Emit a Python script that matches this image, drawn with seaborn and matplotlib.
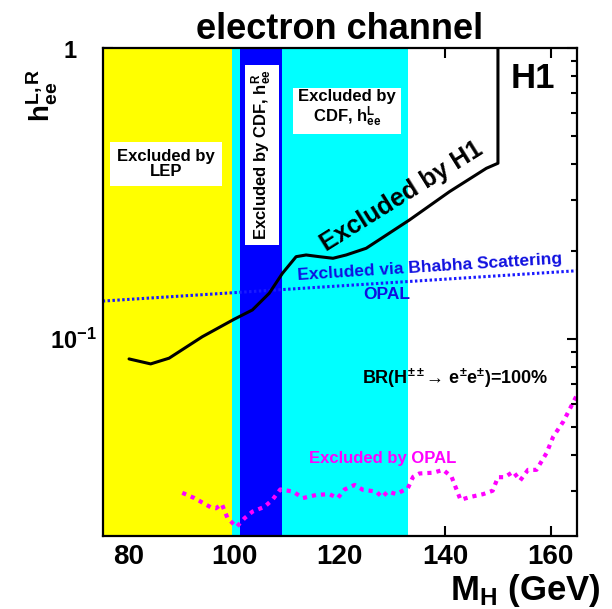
import matplotlib
matplotlib.use("Agg")
import pandas as pd
import matplotlib.pyplot as plt
import seaborn as sns
from matplotlib import font_manager
from matplotlib.ticker import LogLocator, NullFormatter

# mass ranges excluded by other experiments (GeV)
lep_band = [75, 99.6]
cdf_l_band = [99.6, 133.0]
cdf_r_band = [101.1, 109.0]

# H1 exclusion contour
h1_mass = [80, 84.1, 87.6, 93.9, 99.9, 103.4, 106.6, 109.1, 111.7, 113.6, 116.1,
           118.7, 121.2, 125.0, 133.2, 140.8, 147.8, 150.0, 150.0]
h1_coupling = [0.0854, 0.0821, 0.0859, 0.1018, 0.1168, 0.1258, 0.1436, 0.1681, 0.1918,
               0.1944, 0.1918, 0.1894, 0.1944, 0.205, 0.2564, 0.3208, 0.386, 0.4017, 1.0]

# OPAL Bhabha scattering limit
bhabha_mass = [75, 165]
bhabha_coupling = [0.135, 0.1716]

# OPAL direct search limit
opal_mass = [90.1, 92.4, 95.5, 96.5, 97.6, 98.7, 100.4, 101.9, 103.4, 105.7, 107.2, 108.7,
             111.1, 113.0, 115.5, 118.0, 119.6, 120.9, 122.8, 124.4, 126.9, 128.0, 129.1,
             130.7, 132.9, 133.9, 135.1, 137.7, 139.6, 141.2, 142.9, 144.6, 147.2, 149.0,
             150.0, 151.3, 152.9, 154.2, 155.7, 157.3, 159.2, 160.5, 162.4, 165.0]
opal_coupling = [0.0296, 0.0284, 0.0264, 0.0262, 0.0271, 0.0242, 0.0226, 0.0242, 0.0255,
                 0.0265, 0.0280, 0.0304, 0.0299, 0.0284, 0.0291, 0.0293, 0.0284, 0.0304,
                 0.0315, 0.0303, 0.0299, 0.0286, 0.0299, 0.0293, 0.0307, 0.0336, 0.0345,
                 0.0347, 0.0355, 0.0336, 0.0280, 0.0286, 0.0293, 0.0301, 0.0335, 0.0335,
                 0.0350, 0.0326, 0.0355, 0.0355, 0.0405, 0.0462, 0.0520, 0.0642]

xticks = [80, 100, 120, 140, 160]

sns.set_style("ticks")
names = {f.name for f in font_manager.fontManager.ttflist}
narrow = "Liberation Sans Narrow" if "Liberation Sans Narrow" in names else "Liberation Sans"
plt.rcParams["font.family"] = ["Liberation Sans", "DejaVu Sans"]
plt.rcParams["font.weight"] = "bold"
plt.rcParams["text.color"] = "black"
plt.rcParams["xtick.color"] = "black"
plt.rcParams["ytick.color"] = "black"
plt.rcParams["mathtext.fontset"] = "custom"
plt.rcParams["mathtext.rm"] = "Liberation Sans:bold"
plt.rcParams["mathtext.bf"] = "Liberation Sans:bold"
plt.rcParams["mathtext.it"] = "Liberation Sans:bold"
plt.rcParams["mathtext.sf"] = "Liberation Sans:bold"
plt.rcParams["mathtext.default"] = "bf"

W, H = 612, 609
fig = plt.figure(figsize=(W / 100, H / 100), dpi=100)
ax = fig.add_axes([102.7 / W, 1 - 535.6 / H, (577 - 102.7) / W, (535.6 - 48) / H])


def fp(x, y):
    return x / W, 1 - y / H


ax.axvspan(*lep_band, color="#ffff00", lw=0)
ax.axvspan(*cdf_l_band, color="#00ffff", lw=0)
ax.axvspan(*cdf_r_band, color="#0000ff", lw=0)

h1 = pd.DataFrame({"mass": h1_mass, "coupling": h1_coupling})
bhabha = pd.DataFrame({"mass": bhabha_mass, "coupling": bhabha_coupling})
opal = pd.DataFrame({"mass": opal_mass, "coupling": opal_coupling})

sns.lineplot(data=bhabha, x="mass", y="coupling", ax=ax, color="#1a1aff",
             lw=2.2, linestyle=(0, (0.8, 0.8)), estimator=None, sort=False)
sns.lineplot(data=opal, x="mass", y="coupling", ax=ax, color="#ff00ff",
             lw=3, linestyle=(0, (1, 1.2)), estimator=None, sort=False)
sns.lineplot(data=h1, x="mass", y="coupling", ax=ax, color="black",
             lw=2.2, estimator=None, sort=False)

ax.set_yscale("log")
ax.set_xlim(75, 165)
ax.set_ylim(0.0211, 1.0)
ax.set_xlabel("")
ax.set_ylabel("")

ax.set_xticks(xticks)
ax.set_xticklabels([str(v) for v in xticks], fontsize=20, fontweight="bold")
ax.set_yticks([0.1, 1.0])
ax.set_yticklabels([r"$10^{-1}$", ""], fontsize=17)
ax.yaxis.set_minor_locator(LogLocator(base=10, subs=range(2, 10)))
ax.yaxis.set_minor_formatter(NullFormatter())
ax.tick_params(which="both", direction="in", top=True, right=True, width=1.5, color="black")
ax.tick_params(which="major", length=7.5)
ax.tick_params(which="minor", length=4.3)
ax.tick_params(axis="x", pad=6)
ax.tick_params(axis="y", pad=4)
for sp in ax.spines.values():
    sp.set_linewidth(1.6)
    sp.set_color("black")

# texts
fig.text(*fp(340, 39), "electron channel", family=narrow, fontsize=31 if narrow != "Liberation Sans" else 26,
         fontweight="bold", ha="center", va="baseline")
fig.text(*fp(70, 58), "1", fontsize=17, fontweight="bold", ha="center", va="baseline")
fig.text(*fp(42, 95), r"h$_{ee}^{L,R}$", fontsize=20, rotation=90, ha="center", va="center")
fig.text(*fp(600, 600), r"M$_{H}$ (GeV)", fontsize=25, ha="right", va="baseline")
fig.text(*fp(533, 88.3), "H1", fontsize=25, fontweight="bold", ha="center", va="baseline")

box = dict(boxstyle="square,pad=0.42", facecolor="white", edgecolor="none")
fig.text(*fp(166, 164), "Excluded by\nLEP", fontsize=12, ha="center", va="center",
         multialignment="center", linespacing=1.0, bbox=box)
fig.text(*fp(347, 109), "Excluded by\n" + r"CDF, h$_{ee}^{L}$", fontsize=12, ha="center", va="center",
         multialignment="center", linespacing=1.0, bbox=dict(boxstyle="square,pad=0.3",
                                                              facecolor="white", edgecolor="none"))
fig.text(*fp(262, 155), r"Excluded by CDF, h$_{ee}^{R}$", fontsize=12, rotation=90,
         ha="center", va="center", bbox=dict(boxstyle="square,pad=0.3", facecolor="white", edgecolor="none"))
fig.text(*fp(402, 196), "Excluded by H1", fontsize=18, rotation=32, ha="center", va="center",
         rotation_mode="anchor")
fig.text(*fp(430, 267), "Excluded via Bhabha Scattering", fontsize=12.5, color="#1010e0",
         rotation=3.6, ha="center", va="center", rotation_mode="anchor")
fig.text(*fp(387, 294), "OPAL", fontsize=12.5, color="#1010e0", ha="center", va="center")
fig.text(*fp(455, 378), r"BR(H$^{\pm\pm}$→ e$^{\pm}$e$^{\pm}$)=100%", fontsize=13,
         ha="center", va="center")
fig.text(*fp(383, 459), "Excluded by OPAL", fontsize=12, color="#ff00ff", ha="center", va="center")

fig.savefig("out.png", dpi=100)
